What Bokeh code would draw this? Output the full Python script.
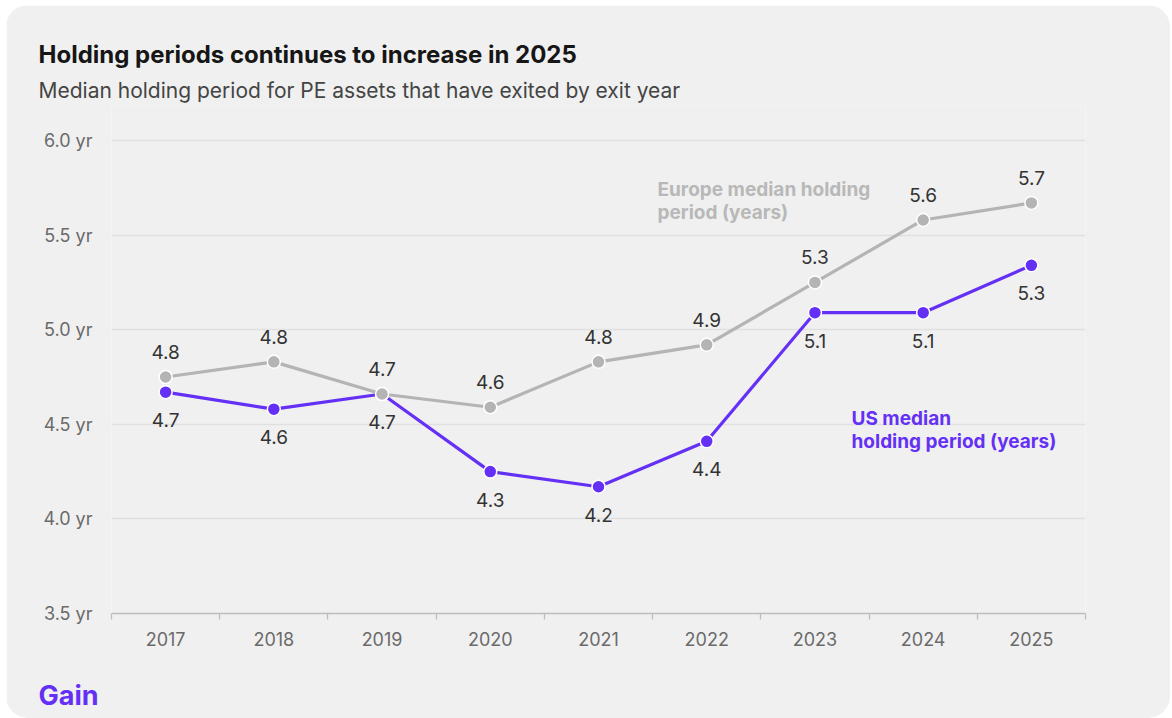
from bokeh.plotting import figure
from bokeh.models import Range1d, FixedTicker, PrintfTickFormatter, Label, ColumnDataSource, Title
from bokeh.core.properties import value
from bokeh.embed import file_html
from bokeh.resources import INLINE

years = ["2017", "2018", "2019", "2020", "2021", "2022", "2023", "2024", "2025"]
europe = [4.75, 4.83, 4.66, 4.59, 4.83, 4.92, 5.25, 5.58, 5.67]
us = [4.67, 4.58, 4.66, 4.25, 4.17, 4.41, 5.09, 5.09, 5.34]
europe_labels = ["4.8", "4.8", "4.7", "4.6", "4.8", "4.9", "5.3", "5.6", "5.7"]
us_labels = ["4.7", "4.6", "4.7", "4.3", "4.2", "4.4", "5.1", "5.1", "5.3"]
y_ticks = [3.5, 4.0, 4.5, 5.0, 5.5, 6.0]

PURPLE = "#6430f5"
GRAY = "#b4b4b4"
BG = "#f0f0f0"
FONT = "Inter"

n = len(years)
xc = [i + 0.5 for i in range(n)]
PX_PER_YR = 473 / 2.5
y_top = 6.0 + 35 / PX_PER_YR   # frame extends a little above the 6.0 gridline

p = figure(width=1164, height=713, output_backend="svg", toolbar_location=None,
           x_range=Range1d(0, n), y_range=Range1d(3.5, y_top),
           min_border_left=105, min_border_right=85, min_border_top=100, min_border_bottom=105)
p.styles = {"margin-left": "6px", "margin-top": "5px", "border-radius": "22px", "overflow": "hidden"}
p.background_fill_color = BG
p.border_fill_color = BG
p.outline_line_color = None

# titles (later added = farther from the frame)
p.add_layout(Title(text="Median holding period for PE assets that have exited by exit year",
                   align="left", offset=-73, standoff=6, text_font=FONT, text_font_size="21px",
                   text_font_style="normal", text_color="#444444"), "above")
p.add_layout(Title(text="Holding periods continues to increase in 2025",
                   align="left", offset=-73, standoff=8, text_font=FONT, text_font_size="24px",
                   text_font_style="bold", text_color="#161616"), "above")
p.add_layout(Title(text="Gain", align="left", offset=-73, standoff=12, text_font=FONT,
                   text_font_size="27px", text_font_style="bold", text_color=PURPLE), "below")

# axes
p.yaxis.ticker = FixedTicker(ticks=y_ticks)
p.yaxis.formatter = PrintfTickFormatter(format="%.1f yr")
p.yaxis.axis_line_color = None
p.yaxis.major_tick_line_color = None
p.yaxis.minor_tick_line_color = None
p.yaxis.major_label_standoff = 13
p.yaxis.major_label_text_font = FONT
p.yaxis.major_label_text_font_size = "18px"
p.yaxis.major_label_text_color = "#6a6a6a"

p.xaxis.ticker = FixedTicker(ticks=xc, minor_ticks=list(range(n + 1)))
p.xaxis.major_label_overrides = {x: y for x, y in zip(xc, years)}
p.xaxis.axis_line_color = "#bdbdbd"
p.xaxis.axis_line_width = 1.3
p.xaxis.major_tick_line_color = None
p.xaxis.minor_tick_line_color = "#bdbdbd"
p.xaxis.minor_tick_line_width = 1.3
p.xaxis.minor_tick_out = 6
p.xaxis.minor_tick_in = 0
p.xaxis.major_label_standoff = 12
p.xaxis.major_label_text_font = FONT
p.xaxis.major_label_text_font_size = "18px"
p.xaxis.major_label_text_color = "#6a6a6a"
p.xaxis.axis_label = " "
p.xaxis.axis_label_text_font_size = "16px"
p.xaxis.axis_label_standoff = 2

p.xgrid.grid_line_color = None
p.ygrid.ticker = FixedTicker(ticks=[t for t in y_ticks if t > 3.5])
p.ygrid.grid_line_color = "#e0e0e0"
p.ygrid.grid_line_width = 1.3

src = ColumnDataSource(dict(x=xc, eu=europe, us=us, eul=europe_labels, usl=us_labels))

p.line("x", "us", source=src, line_color=PURPLE, line_width=3.2)
p.scatter("x", "us", source=src, size=13, fill_color=PURPLE, line_color="white", line_width=1.5)
p.line("x", "eu", source=src, line_color=GRAY, line_width=3.2)
p.scatter("x", "eu", source=src, size=13, fill_color=GRAY, line_color="white", line_width=1.5)

p.text("x", "eu", text="eul", source=src, text_align="center", text_baseline="middle",
       y_offset=-25, text_font=value(FONT), text_font_size="19px", text_color="#333333")
p.text("x", "us", text="usl", source=src, text_align="center", text_baseline="middle",
       y_offset=28, text_font=value(FONT), text_font_size="19px", text_color="#333333")

# pixel -> data helpers for annotation text placement (inside the frame)
def dx(px):
    return (px - 111) / (974 / n)

def dy(py):
    return 6.0 - (py - 140) / PX_PER_YR

def lab(text, px, py, size, color, style="normal"):
    p.add_layout(Label(x=dx(px), y=dy(py), text=text, text_font=FONT, text_font_size=size,
                       text_color=color, text_font_style=style, text_baseline="alphabetic",
                       text_align="left"))

lab("Europe median holding", 657, 189, "19px", "#b8b8b8", "bold")
lab("period (years)", 657, 212, "19px", "#b8b8b8", "bold")
lab("US median", 851, 418, "19px", PURPLE, "bold")
lab("holding period (years)", 851, 441, "19px", PURPLE, "bold")

open("out.html", "w").write(file_html(p, INLINE))
